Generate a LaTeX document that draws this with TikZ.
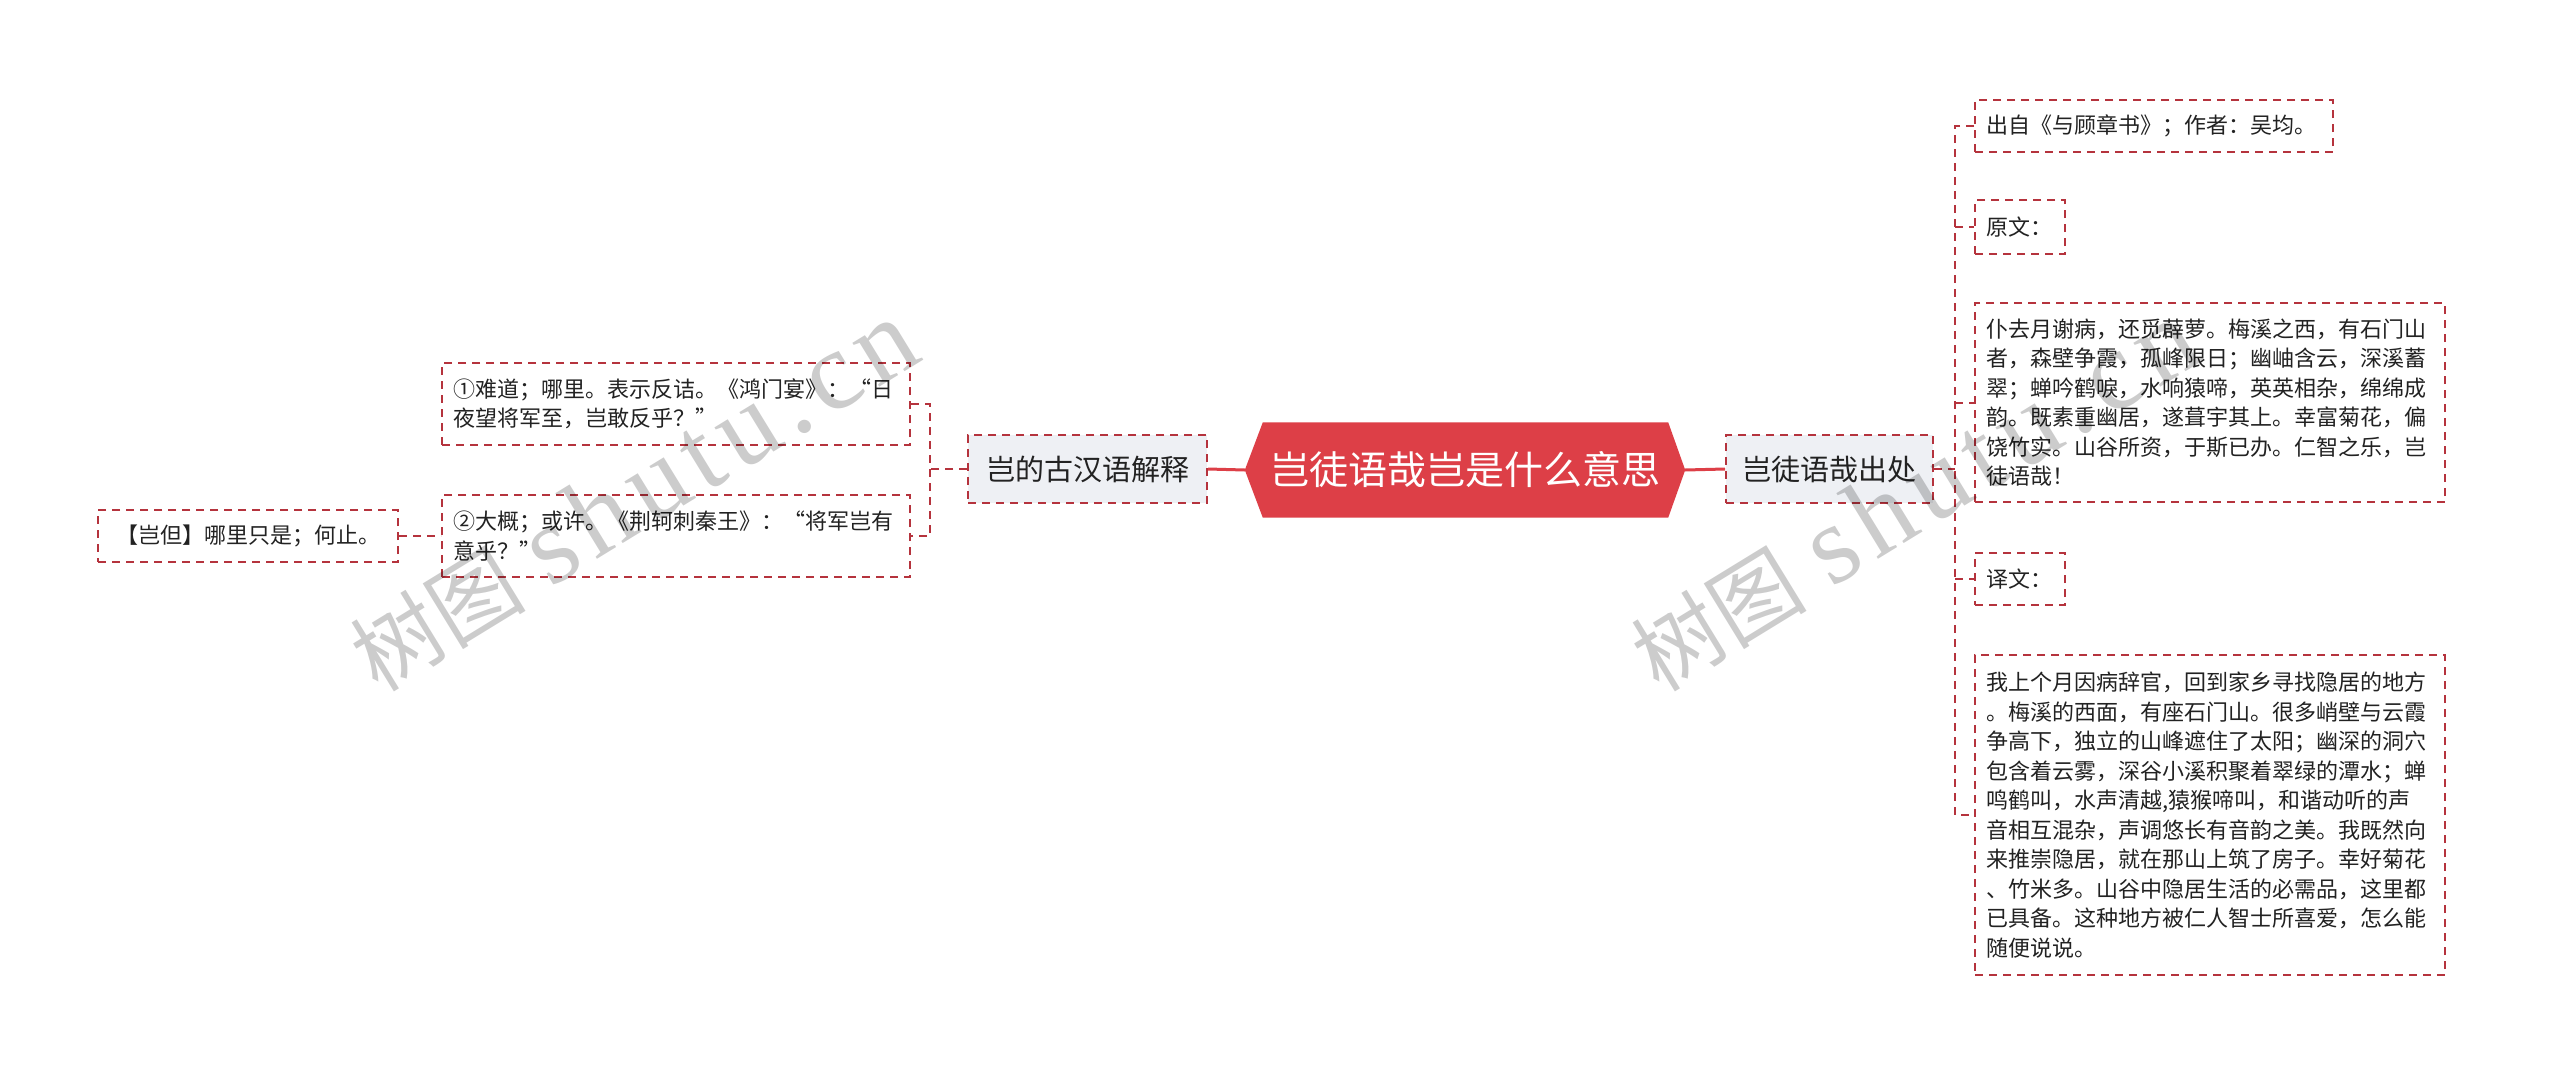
\documentclass[tikz,border=0pt]{standalone}
\usepackage{fontspec}
\setmainfont{Noto Sans CJK SC}
\newfontfamily\wmfont[LetterSpace=8]{Liberation Serif}
\usetikzlibrary{backgrounds,calc}
\definecolor{rootred}{HTML}{DD3F47}
\definecolor{dashred}{HTML}{B5333D}
\definecolor{childfill}{HTML}{EEF0F4}
\definecolor{txt}{HTML}{222222}
\begin{document}
\begin{tikzpicture}[x=1pt,y=-1pt,
  dashline/.style={draw=dashred, line width=2pt, dash pattern=on 8pt off 6pt},
  leaf/.style={dashline, fill=white, inner ysep=0pt, inner xsep=11pt, align=left,
    font=\fontsize{22}{29.5}\selectfont, text=txt},
  childbox/.style={dashline, fill=childfill, inner sep=0pt, minimum height=68pt,
    font=\fontsize{29}{35}\selectfont, text=txt},
  rootbox/.style={inner sep=0pt, minimum width=440pt, minimum height=95pt,
    font=\fontsize{39}{45}\selectfont, text=white},
  rootline/.style={draw=rootred, line width=3pt},
  conn/.style={dashline},
  wm/.style={text=black, text opacity=0.2, inner sep=0pt, font=\fontsize{88}{96}\selectfont}
]
\begin{pgfonlayer}{background}
\fill[white] (0,0) rectangle (2560,1074);
\end{pgfonlayer}
\useasboundingbox (0,0) rectangle (2560,1074);

% root
\node[rootbox] (root) at (1465,470) {岂徒语哉岂是什么意思};
\begin{pgfonlayer}{background}
\fill[rootred] (root.west) -- ($(root.north west)+(18,0)$) -- ($(root.north east)+(-17,0)$)
  -- (root.east) -- ($(root.south east)+(-17,0)$) -- ($(root.south west)+(18,0)$) -- cycle;
\end{pgfonlayer}

% children
\node[childbox, minimum width=239pt] (c1) at (1087.5,469) {岂的古汉语解释};
\node[childbox, minimum width=207pt] (c2) at (1829.5,469) {岂徒语哉出处};

% left leaves
\node[leaf, text width=446pt, minimum height=82pt] (l1) at (676,404)
  {①难道；哪里。表示反诘。《鸿门宴》：“日\\夜望将军至，岂敢反乎？”};
\node[leaf, text width=446pt, minimum height=82pt] (l2) at (676,536)
  {②大概；或许。《荆轲刺秦王》：“将军岂有\\意乎？”};
\node[leaf, align=center, inner xsep=0pt, minimum width=300pt, minimum height=52pt] (ll) at (248,536)
  {【岂但】哪里只是；何止。};

% right leaves
\node[leaf, text width=336pt, minimum height=52pt] (r1) at (2154,126)
  {出自《与顾章书》；作者：吴均。};
\node[leaf, text width=68pt, minimum height=54pt] (r2) at (2020,227) {原文：};
\node[leaf, text width=448pt, minimum height=199pt] (r3) at (2210,402.5)
  {仆去月谢病，还觅薜萝。梅溪之西，有石门山\\
   者，森壁争霞，孤峰限日；幽岫含云，深溪蓄\\
   翠；蝉吟鹤唳，水响猿啼，英英相杂，绵绵成\\
   韵。既素重幽居，遂葺宇其上。幸富菊花，偏\\
   饶竹实。山谷所资，于斯已办。仁智之乐，岂\\
   徒语哉！};
\node[leaf, text width=68pt, minimum height=52pt] (r4) at (2020,579) {译文：};
\node[leaf, text width=448pt, minimum height=320pt] (r5) at (2210,815)
  {我上个月因病辞官，回到家乡寻找隐居的地方\\
   。梅溪的西面，有座石门山。很多峭壁与云霞\\
   争高下，独立的山峰遮住了太阳；幽深的洞穴\\
   包含着云雾，深谷小溪积聚着翠绿的潭水；蝉\\
   鸣鹤叫，水声清越,猿猴啼叫，和谐动听的声\\
   音相互混杂，声调悠长有音韵之美。我既然向\\
   来推崇隐居，就在那山上筑了房子。幸好菊花\\
   、竹米多。山谷中隐居生活的必需品，这里都\\
   已具备。这种地方被仁人智士所喜爱，怎么能\\
   随便说说。};

% connectors
\draw[rootline] (root.west) -- (c1.east);
\draw[rootline] (root.east) -- (c2.west);

\coordinate (lb) at (930,469);
\draw[conn] (c1.west) -- (lb);
\draw[conn] (l1.east) -| (lb) |- (l2.east);
\draw[conn] (ll.east) -- (l2.west);

\coordinate (rb) at (1955,469);
\draw[conn] (c2.east) -- (rb);
\draw[conn] (r1.west) -| (rb) |- (r5.west);
\draw[conn] (rb |- r2.west) -- (r2.west);
\draw[conn] (rb |- r3.west) -- (r3.west);
\draw[conn] (rb |- r4.west) -- (r4.west);

% watermarks
\node[wm, rotate=31.5, anchor=base west] (wm1) at (378,694) {树图\hspace{26pt}{\wmfont\fontsize{112}{120}\selectfont shutu.cn}};
\node[wm, rotate=31.5, anchor=base west] (wm2) at (1659,694) {树图\hspace{26pt}{\wmfont\fontsize{112}{120}\selectfont shutu.cn}};
\end{tikzpicture}
\end{document}
